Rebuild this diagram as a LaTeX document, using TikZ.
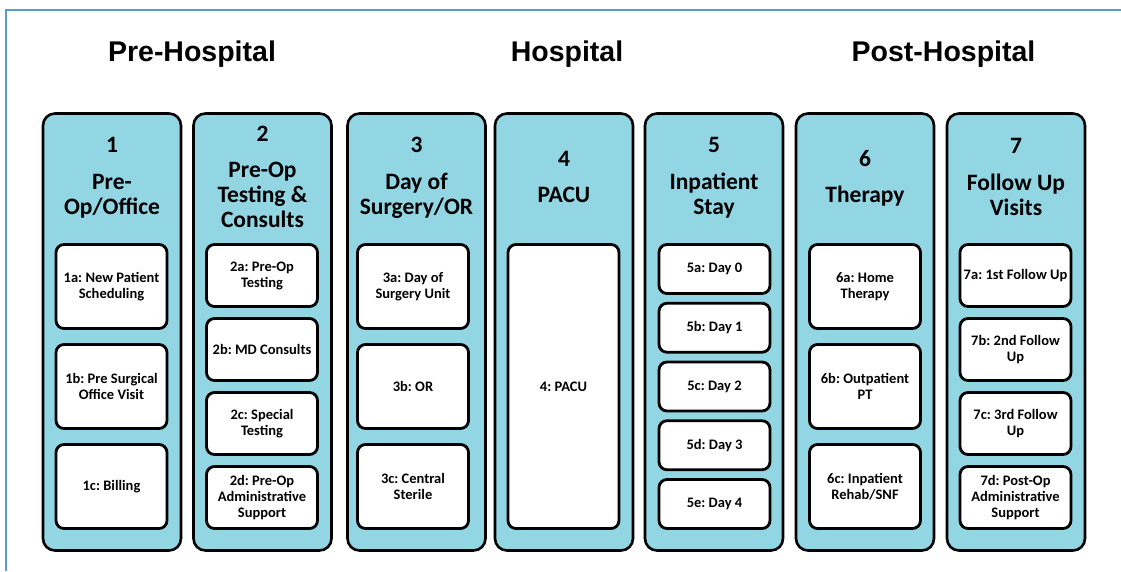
\documentclass[tikz,border=0pt]{standalone}
\usepackage{fontspec}
\setmainfont{Carlito}
\newfontfamily\headfont{Liberation Sans}
\definecolor{colfill}{RGB}{146,214,228}
\definecolor{framecol}{RGB}{91,155,213}
\frenchspacing
\begin{document}
\begin{tikzpicture}[x=1pt,y=-1pt,
  col/.style={draw=black, line width=2.6pt, fill=colfill, rounded corners=12pt,
    minimum width=138pt, minimum height=437pt, inner sep=0pt},
  sub/.style={draw=black, line width=2.8pt, fill=white, rounded corners=8pt,
    minimum width=111pt, inner sep=0pt, align=center,
    font=\bfseries\fontsize{14.5}{16}\selectfont},
  s3/.style={sub, minimum height=84pt},
  s4/.style={sub, minimum height=62pt},
  s5/.style={sub, minimum height=49pt},
  coltitle/.style={align=center, inner sep=0pt,
    font=\bfseries\fontsize{23.5}{25}\selectfont},
  phase/.style={anchor=base, inner sep=0pt,
    font=\headfont\bfseries\fontsize{28.5}{30}\selectfont}
]
\useasboundingbox (0,0) rectangle (1121,571);
% frame
\coordinate (fbl) at (6,571);
\coordinate (ftl) at (6,10);
\coordinate (ftr) at (1121,10);
\draw[framecol, line width=1.4pt] (fbl) -- (ftl) -- (ftr);
% phase headings
\node[phase] (ph1) at (192,61) {Pre-Hospital};
\node[phase] (ph2) at (567,61) {Hospital};
\node[phase] (ph3) at (943.5,61) {Post-Hospital};
% columns
\node[col] (c1) at (112,332) {};
\node[col] (c2) at (262.5,332) {};
\node[col] (c3) at (416.5,332) {};
\node[col] (c4) at (564,332) {};
\node[col] (c5) at (714,332) {};
\node[col] (c6) at (865,332) {};
\node[col] (c7) at (1016,332) {};
% column titles
\node[coltitle] (t1) at (112,178) {1\\[12pt]Pre-\\Op/Office};
\node[coltitle] (t2) at (262.5,177) {2\\[11pt]Pre-Op\\Testing \&\\Consults};
\node[coltitle] (t3) at (416.5,178) {3\\[12pt]Day of\\Surgery/OR};
\node[coltitle] (t4) at (564,177) {4\\[11pt]PACU};
\node[coltitle] (t5) at (714,178) {5\\[12pt]Inpatient\\Stay};
\node[coltitle] (t6) at (865,178) {6\\[11pt]Therapy};
\node[coltitle] (t7) at (1016,177) {7\\[12pt]Follow Up\\Visits};
% column 1
\node[s3] (b1a) at (111.5,286.5) {1a: New Patient\\Scheduling};
\node[s3] (b1b) at (111.5,386.5) {1b: Pre Surgical\\Office Visit};
\node[s3] (b1c) at (111.5,486.5) {1c: Billing};
% column 2
\node[s4] (b2a) at (262,275.5) {2a: Pre-Op\\Testing};
\node[s4] (b2b) at (262,349.5) {2b: MD Consults};
\node[s4] (b2c) at (262,423.5) {2c: Special\\Testing};
\node[s4] (b2d) at (262,497.5) {2d: Pre-Op\\Administrative\\Support};
% column 3
\node[s3] (b3a) at (413,286.5) {3a: Day of\\Surgery Unit};
\node[s3] (b3b) at (413,386.5) {3b: OR};
\node[s3] (b3c) at (413,486.5) {3c: Central\\Sterile};
% column 4
\node[sub, minimum height=284pt] (b4) at (563.5,386.5) {4: PACU};
% column 5
\node[s5] (b5a) at (714.5,269) {5a: Day 0};
\node[s5] (b5b) at (714.5,327.75) {5b: Day 1};
\node[s5] (b5c) at (714.5,386.5) {5c: Day 2};
\node[s5] (b5d) at (714.5,445.25) {5d: Day 3};
\node[s5] (b5e) at (714.5,504) {5e: Day 4};
% column 6
\node[s3] (b6a) at (865,286.5) {6a: Home\\Therapy};
\node[s3] (b6b) at (865,386.5) {6b: Outpatient\\PT};
\node[s3] (b6c) at (865,486.5) {6c: Inpatient\\Rehab/SNF};
% column 7
\node[s4] (b7a) at (1015.5,275.5) {7a: 1st Follow Up};
\node[s4] (b7b) at (1015.5,349.5) {7b: 2nd Follow\\Up};
\node[s4] (b7c) at (1015.5,423.5) {7c: 3rd Follow\\Up};
\node[s4] (b7d) at (1015.5,497.5) {7d: Post-Op\\Administrative\\Support};
\end{tikzpicture}
\end{document}
